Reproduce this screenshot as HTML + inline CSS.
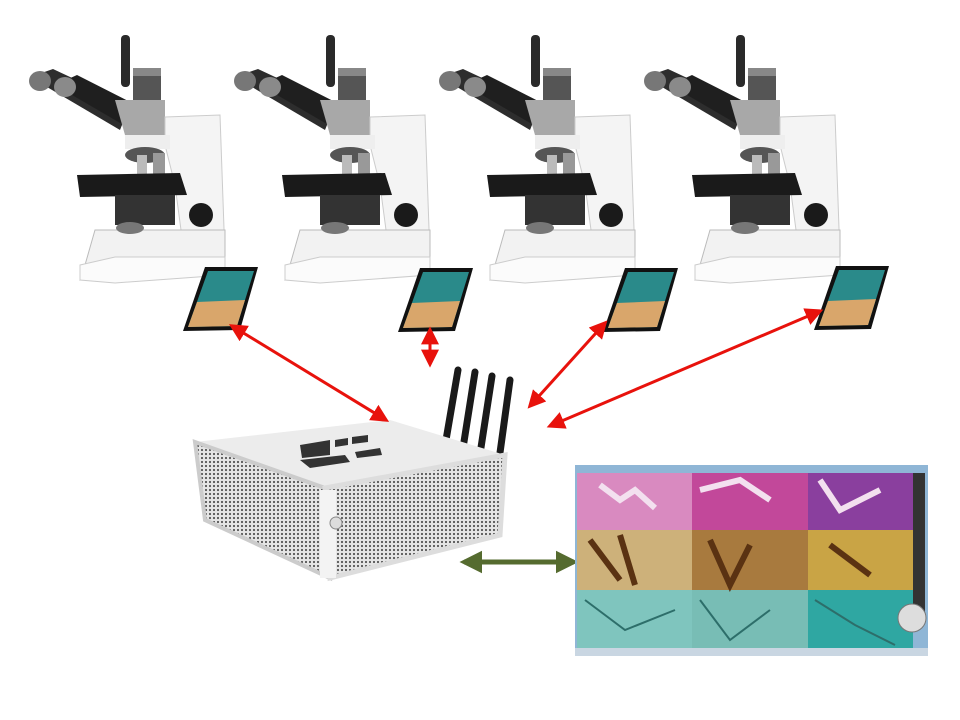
<!DOCTYPE html>
<html><head><meta charset="utf-8"><style>html,body{margin:0;padding:0;background:#fff}svg{display:block}</style></head>
<body>
<svg width="960" height="720" viewBox="0 0 960 720" xmlns="http://www.w3.org/2000/svg">
<defs>
<pattern id="dots" width="4" height="4" patternUnits="userSpaceOnUse"><rect width="4" height="4" fill="#e6e6e6"/><circle cx="2" cy="2" r="1.1" fill="#555"/></pattern>
<marker id="ar" viewBox="0 0 10 10" refX="8" refY="5" markerWidth="6" markerHeight="6" orient="auto-start-reverse"><path d="M0,0L10,5L0,10z" fill="#e8120c"/></marker>
<marker id="ag" viewBox="0 0 10 10" refX="8" refY="5" markerWidth="4.5" markerHeight="5" orient="auto-start-reverse"><path d="M0,0L10,5L0,10z" fill="#556b2f"/></marker>
<g id="mic">
<rect x="96" y="0" width="9" height="52" rx="4" fill="#2a2a2a"/>
<rect x="108" y="36" width="28" height="32" rx="3" fill="#555"/>
<rect x="108" y="33" width="28" height="8" fill="#888"/>
<polygon points="5,42 28,34 105,70 95,95" fill="#2d2d2d"/>
<polygon points="30,50 52,40 115,72 102,92" fill="#1f1f1f"/>
<ellipse cx="15" cy="46" rx="11" ry="10" fill="#777"/>
<ellipse cx="40" cy="52" rx="11" ry="10" fill="#8a8a8a"/>
<polygon points="90,65 140,65 140,100 100,100" fill="#a8a8a8"/>
<polygon points="140,82 195,80 200,222 160,225 150,150 140,110" fill="#f4f4f4" stroke="#ccc"/>
<rect x="100" y="100" width="45" height="14" fill="#eee"/>
<ellipse cx="120" cy="120" rx="20" ry="8" fill="#555"/>
<rect x="112" y="120" width="10" height="20" fill="#bbb"/>
<rect x="128" y="118" width="12" height="22" fill="#999"/>
<polygon points="52,140 155,138 162,160 55,162" fill="#1a1a1a"/>
<rect x="90" y="160" width="60" height="30" fill="#333"/>
<circle cx="176" cy="180" r="12" fill="#1a1a1a"/>
<circle cx="150" cy="207" r="5" fill="#222"/>
<polygon points="70,195 200,195 200,225 95,232 55,245 60,230" fill="#f2f2f2" stroke="#bbb"/>
<ellipse cx="105" cy="193" rx="14" ry="6" fill="#777"/>
<polygon points="55,230 90,222 200,222 200,240 90,248 55,245" fill="#fbfbfb" stroke="#ccc"/>
</g>
<g id="tab"><polygon points="22,0 75,0 57,63 0,64" fill="#111"/><polygon points="25,4 71,4 54,59 5,60" fill="#2a8a8a"/><polygon points="14,35 62,33 54,59 5,60" fill="#d9a66b"/></g>
</defs>
<use href="#mic" x="25" y="35"/>
<use href="#mic" x="230" y="35"/>
<use href="#mic" x="435" y="35"/>
<use href="#mic" x="640" y="35"/>
<use href="#tab" x="183" y="267"/>
<use href="#tab" x="398" y="268"/>
<use href="#tab" x="603" y="268"/>
<use href="#tab" x="814" y="266"/>
<g stroke="#1a1a1a" stroke-width="7" stroke-linecap="round">
<line x1="458" y1="370" x2="446" y2="440"/><line x1="475" y1="372" x2="463" y2="448"/><line x1="492" y1="376" x2="480" y2="454"/><line x1="510" y1="380" x2="499" y2="460"/>
</g>
<polygon points="195,442 390,420 505,455 325,488" fill="#ececec"/>
<polygon points="195,442 325,488 330,578 205,520" fill="url(#dots)" stroke="#ccc" stroke-width="4"/>
<polygon points="325,488 505,455 500,535 330,578" fill="url(#dots)" stroke="#ddd" stroke-width="5"/>
<rect x="320" y="490" width="16" height="88" fill="#f3f3f3"/>
<circle cx="336" cy="523" r="6" fill="#ddd" stroke="#888"/>
<polygon points="300,445 330,440 330,455 302,458" fill="#333"/>
<polygon points="335,440 348,438 348,445 335,447" fill="#333"/>
<polygon points="352,437 368,435 368,442 352,444" fill="#333"/>
<polygon points="300,460 345,455 350,462 310,468" fill="#333"/>
<polygon points="355,452 380,448 382,455 357,458" fill="#333"/>
<g stroke="#e8120c" stroke-width="3" fill="none" marker-start="url(#ar)" marker-end="url(#ar)">
<line x1="232" y1="326" x2="386" y2="420"/>
<line x1="430" y1="330" x2="430" y2="364"/>
<line x1="605" y1="323" x2="530" y2="406"/>
<line x1="820" y1="311" x2="550" y2="426"/>
</g>
<line x1="464" y1="562" x2="574" y2="562" stroke="#556b2f" stroke-width="5" marker-start="url(#ag)" marker-end="url(#ag)"/>
<rect x="575" y="465" width="353" height="191" fill="#8fb6d6"/>
<rect x="577" y="473" width="115" height="57" fill="#d98ac0"/>
<rect x="692" y="473" width="116" height="57" fill="#c2489a"/>
<rect x="808" y="473" width="105" height="57" fill="#8a3f9e"/>
<rect x="577" y="530" width="115" height="60" fill="#cdb17a"/>
<rect x="692" y="530" width="116" height="60" fill="#a87a3e"/>
<rect x="808" y="530" width="105" height="60" fill="#c9a445"/>
<rect x="577" y="590" width="115" height="58" fill="#7fc5be"/>
<rect x="692" y="590" width="116" height="58" fill="#78bdb5"/>
<rect x="808" y="590" width="105" height="58" fill="#2fa7a2"/>
<path d="M600,485l20,15l15,-10l20,18M700,490l40,-10l30,20M820,480l20,30l40,-20" stroke="#f3e0ef" stroke-width="6" fill="none"/>
<path d="M590,540l30,40M620,535l15,50M710,540l20,45l20,-40M830,545l40,30" stroke="#5a3212" stroke-width="6" fill="none"/>
<path d="M585,600l40,30l50,-20M700,600l30,40l40,-30M815,600l40,25l40,20" stroke="#2d6e6a" stroke-width="2" fill="none"/>
<rect x="913" y="473" width="12" height="150" fill="#333"/>
<circle cx="912" cy="618" r="14" fill="#ddd" stroke="#777"/>
<rect x="575" y="648" width="353" height="8" fill="#c9d6e2"/>
</svg>
</body></html>
